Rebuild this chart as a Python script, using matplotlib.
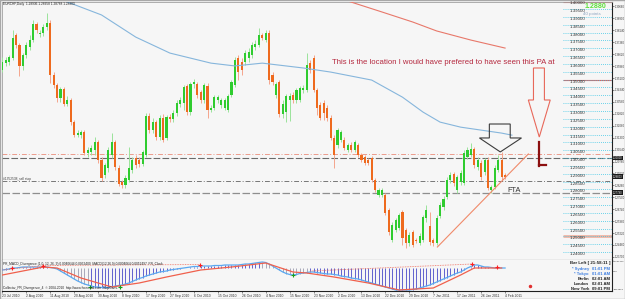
import matplotlib
matplotlib.use('Agg')
import matplotlib.pyplot as plt
from matplotlib.patches import Polygon, Rectangle
from matplotlib.transforms import blended_transform_factory

plt.rcParams['font.family'] = ['Liberation Sans', 'DejaVu Sans']

# ---------------- data (EURCHF daily) ----------------
opens = [
    1.3561, 1.3606, 1.3612, 1.3637, 1.3784, 1.3720, 1.3587, 1.3656, 1.3707, 1.3752,
    1.3854, 1.3790, 1.3797, 1.3835, 1.3861, 1.3529, 1.3465, 1.3382, 1.3440, 1.3343,
    1.3369, 1.3229, 1.3146, 1.3146, 1.3165, 1.3031, 1.3037, 1.3050, 1.3101, 1.2987,
    1.2891, 1.2936, 1.3018, 1.3101, 1.2936, 1.2846, 1.2827, 1.2859, 1.2923, 1.2999,
    1.2987, 1.2961, 1.3018, 1.3268, 1.3178, 1.3229, 1.3133, 1.3255, 1.3127, 1.3261,
    1.3248, 1.3287, 1.3343, 1.3350, 1.3459, 1.3293, 1.3471, 1.3471, 1.3420, 1.3369,
    1.3459, 1.3306, 1.3318, 1.3369, 1.3337, 1.3318, 1.3306, 1.3401, 1.3465, 1.3637,
    1.3612, 1.3612, 1.3637, 1.3656, 1.3707, 1.3720, 1.3784, 1.3752, 1.3797, 1.3529,
    1.3401, 1.3484, 1.3280, 1.3293, 1.3369, 1.3401, 1.3369, 1.3369, 1.3433, 1.3433,
    1.3606, 1.3637, 1.3433, 1.3337, 1.3350, 1.3318, 1.3255, 1.3127, 1.3082, 1.3114,
    1.3114, 1.3050, 1.3082, 1.3050, 1.3082, 1.3018, 1.3005, 1.2987, 1.2999, 1.2859,
    1.2763, 1.2763, 1.2763, 1.2668, 1.2476, 1.2540, 1.2553, 1.2655, 1.2540, 1.2457,
    1.2527, 1.2476, 1.2457, 1.2476, 1.2617, 1.2566, 1.2476, 1.2457, 1.2629, 1.2687,
    1.2750, 1.2859, 1.2897, 1.2795, 1.2846, 1.2840, 1.3005, 1.3018, 1.3057, 1.2942,
    1.2968, 1.2910, 1.2987, 1.2795, 1.2814, 1.2923, 1.2987, 1.2891]

highs = [
    1.3643, 1.3643, 1.3656, 1.3816, 1.3797, 1.3733, 1.3669, 1.3739, 1.3784, 1.3880,
    1.3867, 1.3816, 1.3854, 1.3925, 1.3880, 1.3548, 1.3478, 1.3452, 1.3452, 1.3395,
    1.3382, 1.3242, 1.3178, 1.3178, 1.3178, 1.3069, 1.3082, 1.3133, 1.3114, 1.3005,
    1.2968, 1.3069, 1.3159, 1.3114, 1.2955, 1.2859, 1.2891, 1.3069, 1.3005, 1.3018,
    1.3005, 1.3050, 1.3287, 1.3287, 1.3255, 1.3242, 1.3274, 1.3280, 1.3274, 1.3280,
    1.3306, 1.3369, 1.3388, 1.3465, 1.3471, 1.3484, 1.3503, 1.3484, 1.3433, 1.3478,
    1.3478, 1.3337, 1.3401, 1.3401, 1.3382, 1.3382, 1.3407, 1.3497, 1.3643, 1.3656,
    1.3637, 1.3688, 1.3701, 1.3739, 1.3752, 1.3829, 1.3797, 1.3816, 1.3816, 1.3548,
    1.3484, 1.3497, 1.3369, 1.3407, 1.3414, 1.3420, 1.3446, 1.3459, 1.3465, 1.3669,
    1.3625, 1.3656, 1.3446, 1.3356, 1.3369, 1.3337, 1.3274, 1.3146, 1.3191, 1.3178,
    1.3133, 1.3095, 1.3101, 1.3114, 1.3095, 1.3031, 1.3018, 1.2999, 1.3012, 1.2872,
    1.2808, 1.2808, 1.2776, 1.2680, 1.2591, 1.2617, 1.2649, 1.2668, 1.2553, 1.2527,
    1.2540, 1.2489, 1.2521, 1.2636, 1.2699, 1.2655, 1.2489, 1.2636, 1.2718, 1.2757,
    1.2878, 1.2910, 1.2910, 1.2891, 1.2923, 1.3050, 1.3069, 1.3095, 1.3069, 1.3005,
    1.2987, 1.2999, 1.3005, 1.2827, 1.2955, 1.3018, 1.3037, 1.2904]

lows = [
    1.3548, 1.3587, 1.3593, 1.3625, 1.3701, 1.3523, 1.3561, 1.3637, 1.3688, 1.3739,
    1.3797, 1.3771, 1.3778, 1.3816, 1.3478, 1.3446, 1.3356, 1.3356, 1.3331, 1.3331,
    1.3210, 1.3133, 1.3133, 1.3127, 1.3018, 1.3005, 1.3018, 1.3018, 1.2968, 1.2852,
    1.2872, 1.2910, 1.2999, 1.2923, 1.2821, 1.2808, 1.2808, 1.2846, 1.2904, 1.2936,
    1.2942, 1.2948, 1.3005, 1.3159, 1.3159, 1.3114, 1.3114, 1.3101, 1.3114, 1.3229,
    1.3229, 1.3268, 1.3325, 1.3306, 1.3274, 1.3274, 1.3446, 1.3382, 1.3350, 1.3350,
    1.3255, 1.3293, 1.3306, 1.3350, 1.3318, 1.3306, 1.3293, 1.3388, 1.3452, 1.3497,
    1.3529, 1.3593, 1.3612, 1.3637, 1.3688, 1.3707, 1.3752, 1.3739, 1.3471, 1.3465,
    1.3382, 1.3261, 1.3255, 1.3229, 1.3235, 1.3350, 1.3350, 1.3356, 1.3414, 1.3420,
    1.3542, 1.3420, 1.3274, 1.3242, 1.3242, 1.3235, 1.3114, 1.2936, 1.3063, 1.3101,
    1.3050, 1.3037, 1.3037, 1.3037, 1.3005, 1.2974, 1.2955, 1.2955, 1.2846, 1.2782,
    1.2750, 1.2750, 1.2636, 1.2508, 1.2463, 1.2527, 1.2540, 1.2444, 1.2425, 1.2438,
    1.2431, 1.2457, 1.2444, 1.2463, 1.2591, 1.2444, 1.2438, 1.2444, 1.2617, 1.2668,
    1.2738, 1.2840, 1.2821, 1.2776, 1.2827, 1.2827, 1.2993, 1.3005, 1.2936, 1.2923,
    1.2859, 1.2891, 1.2795, 1.2776, 1.2802, 1.2910, 1.2859, 1.2865]

closes = [
    1.3612, 1.3625, 1.3643, 1.3765, 1.3720, 1.3587, 1.3656, 1.3720, 1.3752, 1.3854,
    1.3816, 1.3797, 1.3835, 1.3861, 1.3529, 1.3465, 1.3382, 1.3440, 1.3343, 1.3369,
    1.3229, 1.3146, 1.3159, 1.3165, 1.3031, 1.3050, 1.3063, 1.3101, 1.2987, 1.2872,
    1.2955, 1.3050, 1.3101, 1.2942, 1.2833, 1.2827, 1.2872, 1.2936, 1.2987, 1.2955,
    1.2961, 1.3037, 1.3268, 1.3178, 1.3229, 1.3133, 1.3255, 1.3114, 1.3261, 1.3248,
    1.3287, 1.3350, 1.3369, 1.3452, 1.3293, 1.3471, 1.3484, 1.3401, 1.3369, 1.3465,
    1.3306, 1.3318, 1.3388, 1.3388, 1.3369, 1.3369, 1.3395, 1.3484, 1.3625, 1.3548,
    1.3561, 1.3669, 1.3676, 1.3720, 1.3727, 1.3784, 1.3765, 1.3797, 1.3497, 1.3484,
    1.3471, 1.3280, 1.3343, 1.3395, 1.3395, 1.3369, 1.3433, 1.3446, 1.3446, 1.3593,
    1.3561, 1.3433, 1.3318, 1.3255, 1.3287, 1.3255, 1.3127, 1.3018, 1.3178, 1.3165,
    1.3063, 1.3082, 1.3050, 1.3101, 1.3018, 1.2987, 1.2968, 1.2968, 1.2859, 1.2795,
    1.2795, 1.2795, 1.2649, 1.2527, 1.2572, 1.2604, 1.2636, 1.2489, 1.2457, 1.2508,
    1.2444, 1.2470, 1.2502, 1.2623, 1.2668, 1.2463, 1.2457, 1.2617, 1.2699, 1.2738,
    1.2859, 1.2891, 1.2840, 1.2878, 1.2904, 1.3031, 1.3050, 1.3057, 1.2955, 1.2987,
    1.2878, 1.2987, 1.2808, 1.2814, 1.2936, 1.2987, 1.2878, 1.2880]

date_labels = ['23 Jul 2010', '2 Aug 2010', '11 Aug 2010', '20 Aug 2010', '30 Aug 2010',
               '8 Sep 2010', '17 Sep 2010', '27 Sep 2010', '6 Oct 2010', '15 Oct 2010',
               '26 Oct 2010', '4 Nov 2010', '15 Nov 2010', '23 Nov 2010', '2 Dec 2010',
               '13 Dec 2010', '22 Dec 2010', '29 Dec 2010', '7 Jan 2011', '17 Jan 2011',
               '26 Jan 2011', '4 Feb 2011']
date_step = 7

# moving averages
blue_ma_bars = [17, 19, 29, 39, 49, 61, 68, 76, 88, 96, 108, 117, 123, 128, 134, 140, 146, 149]
blue_ma = [1.4027, 1.3995, 1.3912, 1.3771, 1.3669, 1.3605, 1.3587, 1.3605, 1.3574,
           1.3548, 1.3497, 1.3388, 1.3293, 1.3229, 1.3197, 1.3178, 1.3159, 1.3146]
red_ma_bars = [99, 101, 111, 120, 127, 137, 147]
red_ma = [1.4039, 1.4001, 1.3931, 1.3867, 1.3810, 1.3752, 1.3701]

# price scale drawn inside the chart
price_labels = ['1.40000', '1.39500', '1.39000', '1.38500', '1.38000', '1.37500',
                '1.37000', '1.36500', '1.36000', '1.35500', '1.35000', '1.34500',
                '1.34000', '1.33500', '1.33000', '1.32500', '1.32000', '1.31500',
                '1.31000', '1.30500', '1.30000', '1.29500', '1.29000', '1.28500',
                '1.28000', '1.27500', '1.27000', '1.26500', '1.26000', '1.25500',
                '1.25000', '1.24500', '1.24000']
outer_labels = ['1.39660', '1.38900', '1.38140', '1.37380', '1.36620', '1.35860',
                '1.35100', '1.34340', '1.33580', '1.32820', '1.32060', '1.31300',
                '1.30540', '1.29780', '1.29020', '1.28260', '1.27500', '1.26740',
                '1.25980', '1.25220', '1.24460', '1.23700']

# horizontal levels
level_pink = 1.3025
level_round = 1.3000
level_sell_stop = 1.2852
level_low = 1.2778
axis_red_levels = [1.3993, 1.3500]
axis_pale_level = 1.2500
bid = 1.2880

# drawn objects (bar index, price)
trend_bars = [127.2, 153.8]
trend_prices = [1.2433, 1.3026]
black_arrow_x = [142.4, 148.5, 148.5, 151.8, 145.6, 139.5, 142.4]
black_arrow_y = [1.3217, 1.3217, 1.3128, 1.3128, 1.3039, 1.3128, 1.3128]
red_arrow_x = [155.3, 158.5, 158.5, 160.2, 157.0, 153.8, 155.3]
red_arrow_y = [1.3574, 1.3574, 1.3370, 1.3370, 1.3134, 1.3370, 1.3370]
pa_bar = 157.0
pa_top, pa_bottom, pa_close = 1.3102, 1.2950, 1.2956

# MACD panel
macd = [
    -0.0020, -0.0015, -0.0010, 0.0000, 0.0000, 0.0005, 0.0010, 0.0010, 0.0010, 0.0010,
    0.0010, 0.0010, 0.0010, 0.0010, 0.0005, 0.0000, -0.0010, -0.0030, -0.0050, -0.0070,
    -0.0090, -0.0110, -0.0130, -0.0145, -0.0160, -0.0170, -0.0180, -0.0190, -0.0190, -0.0195,
    -0.0195, -0.0195, -0.0190, -0.0180, -0.0175, -0.0170, -0.0160, -0.0150, -0.0135, -0.0120,
    -0.0105, -0.0095, -0.0080, -0.0070, -0.0060, -0.0050, -0.0040, -0.0035, -0.0030, -0.0020,
    -0.0015, -0.0010, -0.0005, 0.0000, 0.0005, 0.0010, 0.0015, 0.0015, 0.0020, 0.0020,
    0.0020, 0.0020, 0.0025, 0.0025, 0.0025, 0.0030, 0.0030, 0.0030, 0.0030, 0.0030,
    0.0035, 0.0040, 0.0040, 0.0045, 0.0050, 0.0055, 0.0060, 0.0055, 0.0040, 0.0020,
    0.0000, -0.0020, -0.0040, -0.0055, -0.0065, -0.0070, -0.0065, -0.0055, -0.0050, -0.0045,
    -0.0040, -0.0040, -0.0045, -0.0050, -0.0055, -0.0060, -0.0060, -0.0065, -0.0070, -0.0080,
    -0.0085, -0.0090, -0.0100, -0.0105, -0.0110, -0.0120, -0.0130, -0.0140, -0.0150, -0.0160,
    -0.0170, -0.0180, -0.0190, -0.0200, -0.0210, -0.0220, -0.0220, -0.0220, -0.0220, -0.0220,
    -0.0215, -0.0210, -0.0200, -0.0190, -0.0180, -0.0170, -0.0155, -0.0140, -0.0125, -0.0110,
    -0.0095, -0.0080, -0.0065, -0.0050, -0.0040, -0.0020, 0.0000, 0.0015, 0.0030, 0.0030,
    0.0020, 0.0010, 0.0010, 0.0005, 0.0000, 0.0000, 0.0000, 0.0000]
signal_bars = [0, 12, 16, 23, 32, 40, 48, 58, 67, 77, 85, 89, 97, 107, 116, 126, 134, 138, 146]
signal = [-0.007, 0.001, 0.000, -0.010, -0.019, -0.015, -0.009, -0.002, 0.001, 0.005,
          -0.004, -0.005, -0.009, -0.015, -0.022, -0.020, -0.007, 0.000, 0.000]
grey_spans = [(16, 25), (76, 89)]
peak_bars = [2.9, 12.0, 57.9, 137.4, 144.7]
peak_vals = [0.0000, 0.0020, 0.0030, 0.0040, 0.0010]
trough_bars = [25.7, 34.5, 85.1]
trough_vals = [-0.0190, -0.0190, -0.0070]
div_lines = [([0.0, 12.0], [-0.0020, 0.0025]), ([12.0, 57.9], [0.0025, 0.0035]),
             ([90.0, 137.4], [-0.0030, 0.0040])]

clock_cities = ['* Sydney', '* Tokyo', 'Berlin', 'London', 'New York']
clock_times = ['01:01 PM', '01:01 AM', '02:01 AM', '02:01 AM', '09:01 PM']
clock_colors = ['#3f7fe0', '#3f7fe0', '#202020', '#202020', '#202020']

# ---------------- layout ----------------
W, H = 625, 299
BAR_PX = 3.42
BG = '#f6f6f6'
UP_BODY, DN_BODY = '#2fcc2f', '#ee6a1e'
UP_WICK, DN_WICK = '#9be39b', '#f4a58c'


def fx(px):
    return px / W


def fy(py):
    return 1 - py / H


fig = plt.figure(figsize=(W / 100, H / 100), dpi=100, facecolor=BG)
ax = fig.add_axes([fx(2), fy(259.5), (612 - 2) / W, (259.5 - 2) / H], facecolor=BG)
ax_m = fig.add_axes([fx(2), fy(290.5), (612 - 2) / W, (290.5 - 259.5) / H], facecolor=BG)

x_left = -0.1
x_right = x_left + (612 - 2) / BAR_PX
axis_x0 = x_left + (563 - 2) / BAR_PX
label_x = x_left + (570 - 2) / BAR_PX
for a in (ax, ax_m):
    a.set_xlim(x_left, x_right)
ax.set_ylim(1.23534, 1.39946)
ax_m.set_ylim(-0.0225, 0.0085)

# ---------------- candles ----------------
bars = list(range(len(closes)))
up = [c >= o for o, c in zip(opens, closes)]
ax.vlines(bars, lows, highs, colors=[UP_WICK if u else DN_WICK for u in up],
          lw=0.7, zorder=3)
ax.bar(bars, [max(abs(c - o), 0.0004) for o, c in zip(opens, closes)],
       bottom=[min(o, c) for o, c in zip(opens, closes)], width=0.62,
       color=[UP_BODY if u else DN_BODY for u in up], linewidth=0, zorder=4)

ax.plot(blue_ma_bars, blue_ma, color='#86b6dc', lw=0.8, zorder=5)
ax.plot(red_ma_bars, red_ma, color='#e8786a', lw=0.8, zorder=5)

# horizontal lines
ax.axhline(level_pink, color='#eb9c8c', lw=0.7, ls=(0, (5, 2, 1, 2)), zorder=2)
ax.axhline(level_round, color='#6a6a6a', lw=0.8, ls=(0, (6, 2)), zorder=2)
ax.axhline(level_sell_stop, color='#777777', lw=0.7, ls=(0, (5, 2, 1, 2)), zorder=2)
ax.axhline(level_low, color='#8e8e8e', lw=0.9, ls=(0, (6, 2)), zorder=2)
ax.hlines(axis_red_levels, axis_x0, x_right, colors='#e0605a', lw=0.8, zorder=2)
ax.hlines(axis_pale_level, axis_x0, x_right, colors='#f0b4a4', lw=2.0, zorder=2)

# price labels inside the chart
for s in price_labels:
    v = float(s)
    ax.hlines(v, axis_x0, x_right, colors='#3cc6e6', linestyles=(0, (1, 1.5)), lw=0.6, zorder=2)
    ax.text(label_x, v, s, fontsize=3.2, color='#333333', va='top', ha='left')

# trend line, arrows and the PA mark
ax.plot(trend_bars, trend_prices, color='#f08a6a', lw=0.8, zorder=5)
ax.add_patch(Polygon(list(zip(black_arrow_x, black_arrow_y)), closed=True, fill=False,
                     edgecolor='#3c3c3c', lw=0.8, zorder=6))
ax.add_patch(Polygon(list(zip(red_arrow_x, red_arrow_y)), closed=True, fill=False,
                     edgecolor='#e8685a', lw=0.8, zorder=6))
ax.plot([pa_bar, pa_bar], [pa_top, pa_bottom], color='#8c1010', lw=1.6, zorder=6)
ax.plot([pa_bar, pa_bar + 2.0], [pa_close, pa_close], color='#8c1010', lw=1.6, zorder=6)

ax.text(x_left + (332 - 2) / BAR_PX, 1.3612,
        'This is the location I would have prefered to have seen this PA at',
        fontsize=5.6, color='#b5293f', va='center', ha='left', zorder=7)
ax.text(x_left + (507 - 2) / BAR_PX, 1.2796, 'FTA', fontsize=5.3, color='#333333',
        va='center', ha='left', zorder=7)
ax.text(x_left + 0.4, level_sell_stop + 0.0003, '#1352538_sell stop', fontsize=2.3,
        color='#404040', va='bottom', ha='left')

# outer price scale (narrow strip on the right)
ax.set_xticks([])
ax.yaxis.tick_right()
ax.set_yticks([float(s) for s in outer_labels])
ax.set_yticklabels(outer_labels)
ax.tick_params(axis='y', labelsize=2.0, length=1.2, width=0.4, pad=0.5, colors='#333333')
edge = blended_transform_factory(fig.transFigure, ax.transData)
for v, s in [(level_round, '1.30000'), (bid, '1.28803'), (level_low, '1.27780')]:
    fig.text(fx(613.2), v, s, transform=edge, fontsize=1.9, color='white', va='center',
             ha='left', bbox=dict(boxstyle='square,pad=0.15', fc='#1a1a1a', ec='none'))

for side in ['left', 'top']:
    ax.spines[side].set_color('#a0a0a0')
    ax.spines[side].set_linewidth(0.6)
for side in ['right', 'bottom']:
    ax.spines[side].set_color('#202020')
    ax.spines[side].set_linewidth(0.8)

# ---------------- MACD panel ----------------
hist_colors = ['#9c9cb0' if any(a <= i <= b for a, b in grey_spans) else '#4a4ac8'
               for i in bars]
ax_m.vlines(bars, 0, macd, colors=hist_colors, lw=0.6, zorder=2)
ax_m.plot(bars, macd, color='#5aa8f0', lw=0.9, zorder=3)
ax_m.plot(signal_bars, signal, color='#f0604c', lw=0.9, zorder=3)
for xs, ys in div_lines:
    ax_m.plot(xs, ys, color='#f07060', lw=0.6, ls=(0, (1, 1)), zorder=3)
ax_m.plot(peak_bars, peak_vals, ls='none', marker='+', ms=3, mew=0.8, color='#ff2020', zorder=4)
ax_m.plot(trough_bars, trough_vals, ls='none', marker='+', ms=3, mew=0.8, color='#18a018', zorder=4)
ax_m.plot([x_left + (530 - 2) / BAR_PX], [-0.018], ls='none', marker='o', ms=1.5,
          color='#e03030', zorder=4)

ax_m.set_yticks([])
ax_m.set_xticks(list(range(0, len(closes), date_step)))
ax_m.set_xticklabels(date_labels, fontsize=2.4, color='#333333')
for lab in ax_m.get_xticklabels():
    lab.set_ha('left')
ax_m.tick_params(axis='x', length=1.5, width=0.4, pad=0.8, color='#333333')
ax_m.spines['top'].set_visible(False)
ax_m.spines['left'].set_color('#a0a0a0')
ax_m.spines['left'].set_linewidth(0.6)
for side in ['right', 'bottom']:
    ax_m.spines[side].set_color('#202020')
    ax_m.spines[side].set_linewidth(0.8)

# ---------------- window texts ----------------
fig.text(fx(3), fy(4), 'EURCHF,Daily  1.28936 1.28958 1.28788 1.28803', fontsize=2.3,
         color='#202020', va='center', ha='left')
fig.text(fx(585), fy(7), '1.2880', fontsize=5, fontweight='bold', color='#5ee03c',
         va='center', ha='left')
fig.text(fx(583), fy(13.5), '40 points', fontsize=3.2, color='#8aa4c0', va='center', ha='left')
fig.text(fx(3), fy(263.5),
         'PR_MACD_Divergence (1.0, 12, 26, 9) 0.0040644 0.0052400  MACD(12,26,9) 0.0004064 0.0052497  PR_Clock',
         fontsize=2.3, color='#202020', va='center', ha='left')
fig.text(fx(3), fy(288), 'Collector_PR_Divergence_4  \u00a9 2004-2010  http://www.forex-tsd.com  Sup.Cons.',
         fontsize=2.3, color='#202020', va='center', ha='left')

fig.text(fx(610), fy(263), 'Bar Left [ 21:58:11 ]', fontsize=3.2, fontweight='bold',
         color='#202020', va='center', ha='right')
for k, (city, t, col) in enumerate(zip(clock_cities, clock_times, clock_colors)):
    yy = fy(269 + 5 * k)
    fig.text(fx(589), yy, city, fontsize=3.0, fontweight='bold', color=col, va='center', ha='right')
    fig.text(fx(610), yy, t, fontsize=3.0, fontweight='bold', color=col, va='center', ha='right')

fig.text(fx(612.8), fy(262), '0.0131315', fontsize=1.7, color='#333333', va='center', ha='left')
fig.text(fx(612.8), fy(272), '0.00', fontsize=1.7, color='#333333', va='center', ha='left')
fig.text(fx(612.8), fy(289), '-0.013956', fontsize=1.7, color='#333333', va='center', ha='left')

fig.patches.append(Rectangle((0, 0), 1, 1, transform=fig.transFigure, fill=False,
                             edgecolor='#a8a8a8', lw=1.0))

fig.savefig('out.png', dpi=100, facecolor=BG)
